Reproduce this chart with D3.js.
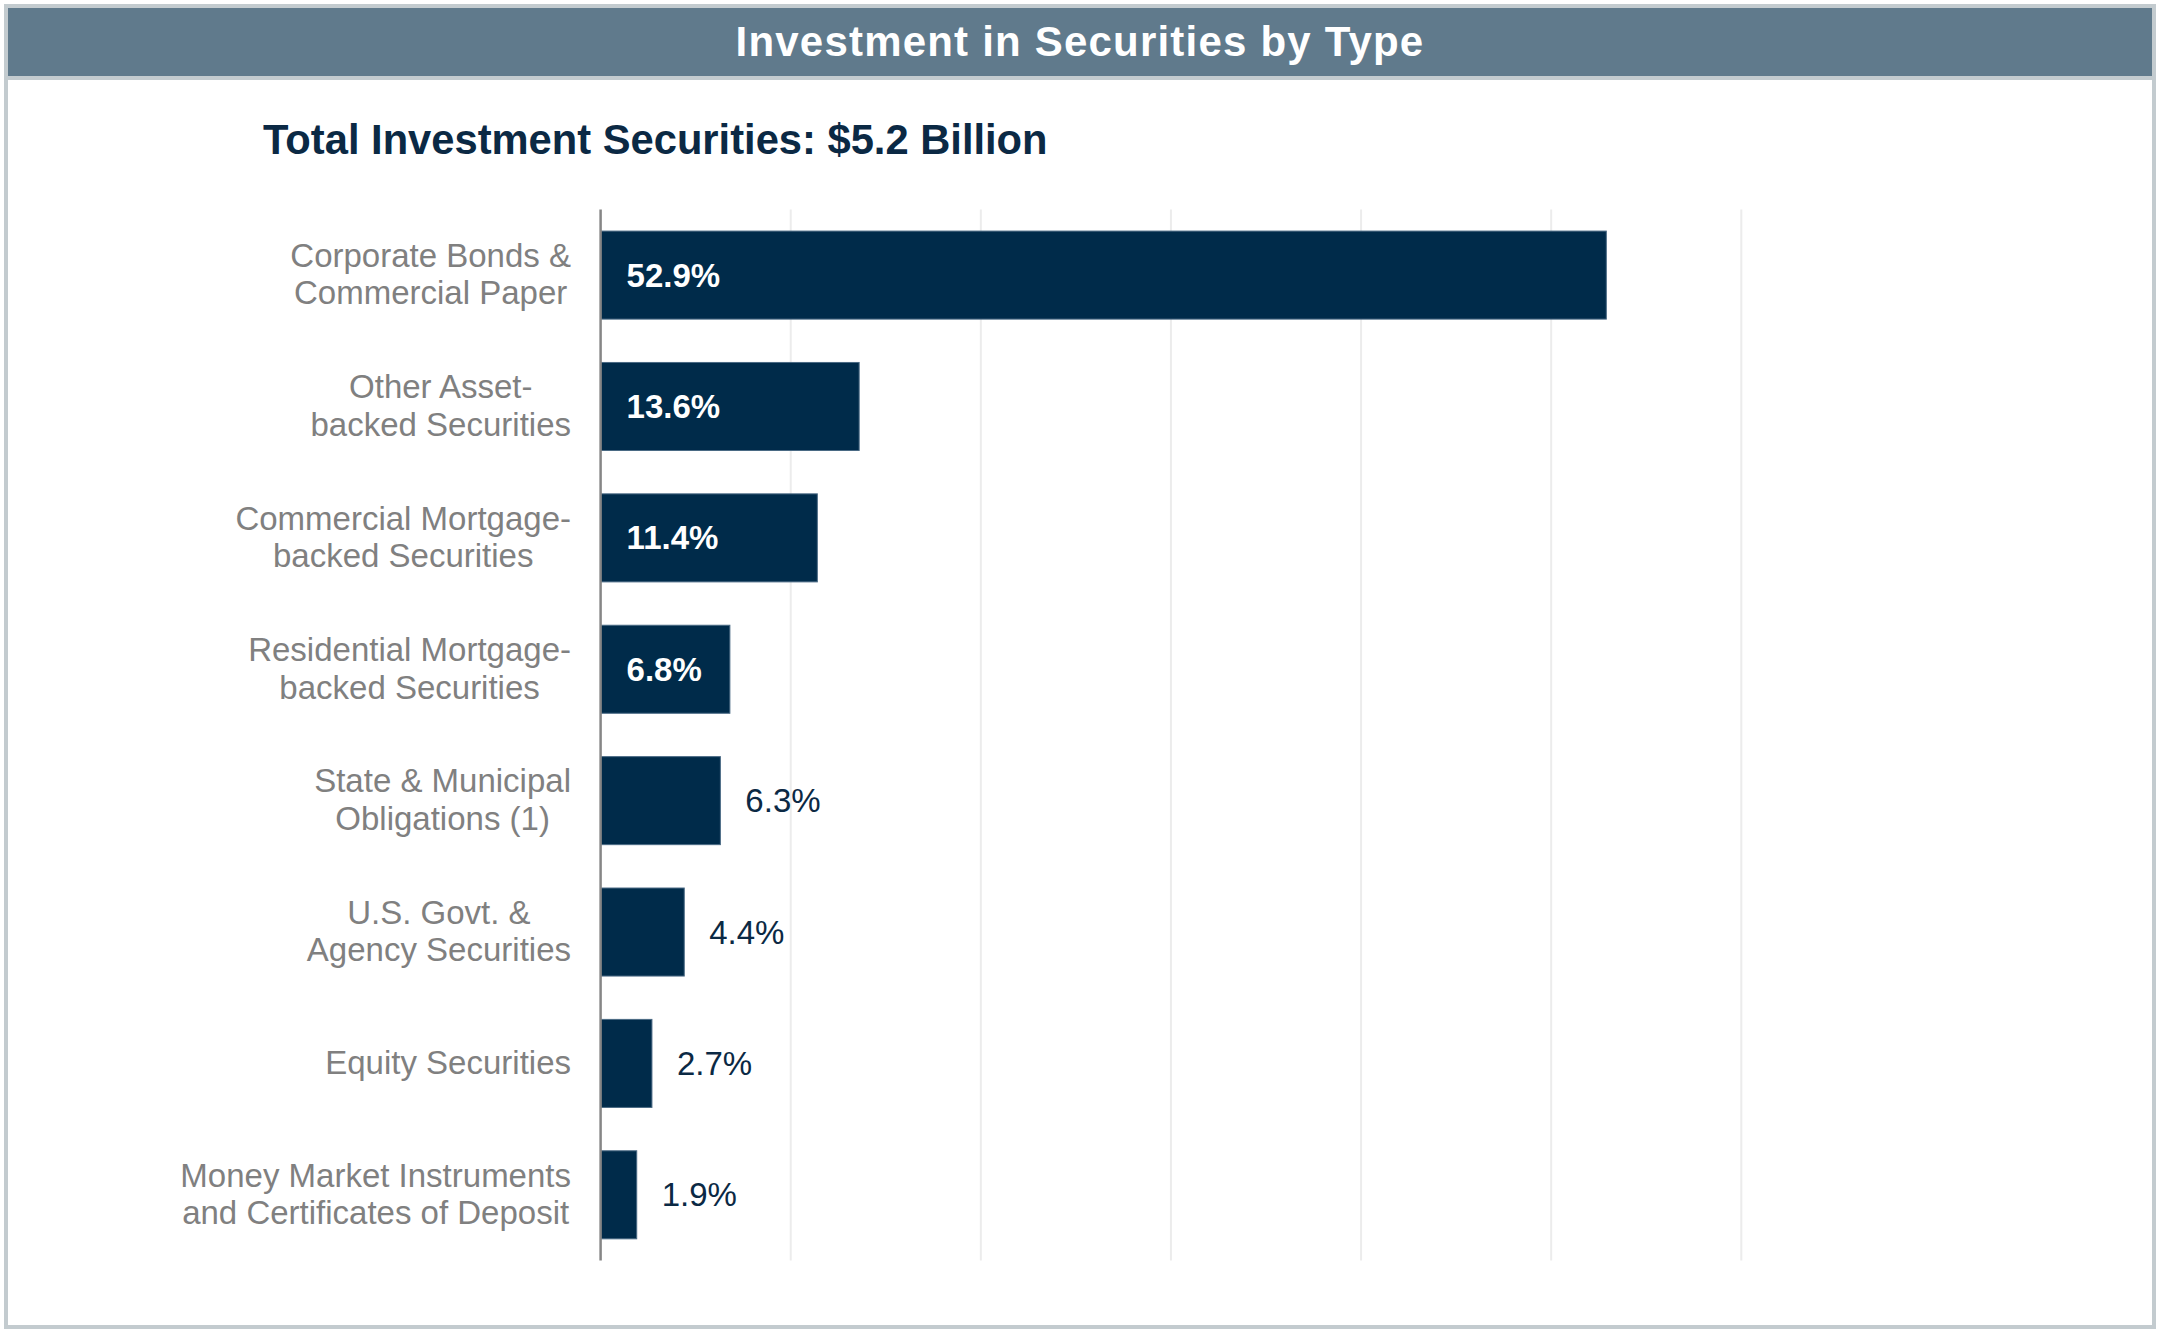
<!DOCTYPE html>
<html>
<head>
<meta charset="utf-8">
<script src="https://cdn.jsdelivr.net/npm/d3@7"></script>
<style>
  html, body { margin: 0; padding: 0; background: #ffffff; }
  svg { display: block; font-family: "Liberation Sans", Arial, sans-serif; }
</style>
</head>
<body>
<svg id="chart" width="2160" height="1334"></svg>
<script>
const chartTitle = "Investment in Securities by Type";
const subTitle = "Total Investment Securities: $5.2 Billion";
const categories = [
  ["Corporate Bonds &", "Commercial Paper"],
  ["Other Asset-", "backed Securities"],
  ["Commercial Mortgage-", "backed Securities"],
  ["Residential Mortgage-", "backed Securities"],
  ["State & Municipal", "Obligations (1)"],
  ["U.S. Govt. &", "Agency Securities"],
  ["Equity Securities"],
  ["Money Market Instruments", "and Certificates of Deposit"]
];
const values = [52.9, 13.6, 11.4, 6.8, 6.3, 4.4, 2.7, 1.9];
const insideLabel = [true, true, true, true, false, false, false, false];
const gridTicks = [0, 10, 20, 30, 40, 50, 60];

const svg = d3.select("#chart");
const W = 2160, H = 1334;

// frame
svg.append("rect").attr("x", 6).attr("y", 6).attr("width", W - 12).attr("height", H - 13)
  .attr("fill", "#ffffff").attr("stroke", "#c3cbcf").attr("stroke-width", 4);
svg.append("rect").attr("x", 8).attr("y", 8).attr("width", W - 16).attr("height", 68)
  .attr("fill", "#607a8c");
svg.append("rect").attr("x", 8).attr("y", 76).attr("width", W - 16).attr("height", 4)
  .attr("fill", "#c3cbcf");

svg.append("text").attr("x", W / 2).attr("y", 56).attr("text-anchor", "middle")
  .attr("fill", "#ffffff").attr("font-weight", "bold").attr("font-size", 42)
  .attr("letter-spacing", 1.2).text(chartTitle);

svg.append("text").attr("x", 263).attr("y", 154)
  .attr("fill", "#0b2944").attr("font-weight", "bold").attr("font-size", 41.7)
  .text(subTitle);

const x = d3.scaleLinear().domain([0, 60]).range([600.6, 1741.3]);
const y = d3.scaleBand().domain(d3.range(categories.length)).range([209.4, 1260.5])
  .paddingInner(0.33).paddingOuter(0.165);

// gridlines
svg.append("g").selectAll("line").data(gridTicks.slice(1)).join("line")
  .attr("x1", d => x(d)).attr("x2", d => x(d))
  .attr("y1", 209.4).attr("y2", 1260.5)
  .attr("stroke", "#ececec").attr("stroke-width", 2);

// bars
svg.append("g").selectAll("rect").data(values).join("rect")
  .attr("x", x(0)).attr("y", (d, i) => y(i))
  .attr("width", d => x(d) - x(0)).attr("height", y.bandwidth())
  .attr("fill", "#002b4a").attr("stroke", "#4a6a84").attr("stroke-width", 1);

// axis line
svg.append("line").attr("x1", x(0)).attr("x2", x(0)).attr("y1", 209.4).attr("y2", 1260.5)
  .attr("stroke", "#868686").attr("stroke-width", 2.5);

// value labels
svg.append("g").selectAll("text").data(values).join("text")
  .attr("x", (d, i) => insideLabel[i] ? x(0) + 26 : x(d) + 25)
  .attr("y", (d, i) => y(i) + y.bandwidth() / 2)
  .attr("dominant-baseline", "central")
  .attr("font-size", 33)
  .attr("font-weight", (d, i) => insideLabel[i] ? "bold" : "normal")
  .attr("fill", (d, i) => insideLabel[i] ? "#ffffff" : "#0b2944")
  .text(d => d.toFixed(1) + "%");

// category labels: block right-aligned, lines centered
const labelRight = 571;
const lg = svg.append("g").attr("fill", "#808080").attr("font-size", 33);
categories.forEach((lines, i) => {
  const cy = y(i) + y.bandwidth() / 2;
  const texts = lines.map((t, j) => lg.append("text")
    .attr("y", cy - 1 + (j - (lines.length - 1) / 2) * 37.5)
    .attr("dominant-baseline", "central")
    .attr("text-anchor", "middle")
    .text(t));
  const maxW = d3.max(texts, t => t.node().getComputedTextLength());
  texts.forEach(t => t.attr("x", labelRight - maxW / 2));
});
</script>
</body>
</html>
